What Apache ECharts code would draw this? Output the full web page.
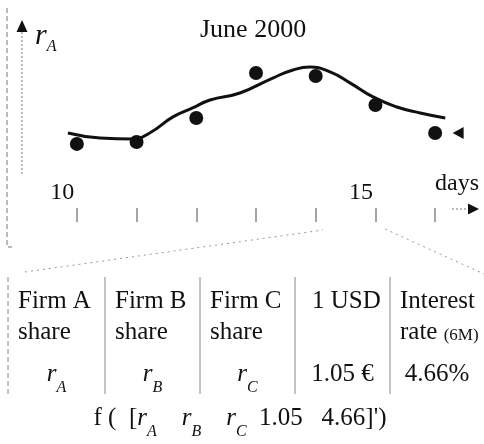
<!DOCTYPE html>
<html>
<head>
<meta charset="utf-8">
<script src="https://cdn.jsdelivr.net/npm/echarts@6/dist/echarts.min.js"></script>
<style>
  html, body { margin: 0; padding: 0; background: #fff; }
  #chart { width: 484px; height: 444px; }
</style>
</head>
<body>
<div id="chart"></div>
<script>
// days on x, r_A share on y
var days = [10, 11, 12, 13, 14, 15, 16];
var shareA = [3.56, 3.67, 5.0, 7.5, 7.33, 5.72, 4.17];
// the smooth curve drawn over the points
var fitDays = [9.85, 10.39, 10.94, 11.22, 11.61, 11.94, 12.23, 12.73, 13.28, 13.62, 13.9, 14.24, 14.58, 14.96, 15.36, 15.75, 16.17];
var fitVals = [4.17, 3.89, 3.83, 4.17, 5.06, 5.56, 6.0, 6.39, 7.22, 7.67, 7.83, 7.56, 6.94, 6.17, 5.61, 5.28, 5.0];
var tickLabels = [10, 15];
// table under the chart
var headLines = [['Firm A', 'share'], ['Firm B', 'share'], ['Firm C', 'share'], ['1 USD'], ['Interest', 'rate (6M)']];
var cellVals = ['r_A', 'r_B', 'r_C', '1.05 €', '4.66%'];
var formulaVals = ['r_A', 'r_B', 'r_C', '1.05', '4.66'];

var SERIF = "'Liberation Serif', 'DejaVu Serif', serif";
var INK = '#111';

// turn "r_A" into rich tokens, everything else into plain {n|..}
function richify (s) {
  var out = '';
  s.split(/(r_\w)/).forEach(function (p) {
    if (!p) return;
    if (/^r_\w$/.test(p)) out += '{r|r}{s|' + p.charAt(2) + '}';
    else if (p.indexOf('(6M)') >= 0) out += '{n|' + p.replace('(6M)', '') + '}{m|(6M)}';
    else out += '{n|' + p + '}';
  });
  return out;
}

var rich = {
  n: { font: '25px ' + SERIF, fill: INK, lineHeight: 31, verticalAlign: 'top' },
  r: { font: 'italic 25px ' + SERIF, fill: INK, lineHeight: 31, verticalAlign: 'top' },
  s: { font: 'italic 16px ' + SERIF, fill: INK, lineHeight: 52 },
  m: { font: '17px ' + SERIF, fill: INK, lineHeight: 31 }
};

function txt (x, y, text, align) {
  return {
    type: 'text', x: x, y: y, silent: true,
    style: {
      text: text, rich: rich, fill: INK, font: '25px ' + SERIF,
      align: align, textAlign: align, verticalAlign: 'top', textVerticalAlign: 'top'
    }
  };
}

var graphics = [];
// scanned frame on the left and the zoom lines to the table
graphics.push({ type: 'polyline', silent: true, shape: { points: [[7, 8], [7, 247], [12, 247]] }, style: { stroke: '#777', lineWidth: 1, lineDash: [5, 3], fill: null } });
graphics.push({ type: 'line', silent: true, shape: { x1: 25, y1: 272, x2: 323, y2: 230 }, style: { stroke: '#999', lineWidth: 1, lineDash: [2, 4] } });
graphics.push({ type: 'line', silent: true, shape: { x1: 385, y1: 229, x2: 484, y2: 274 }, style: { stroke: '#999', lineWidth: 1, lineDash: [2, 4] } });
// y axis arrow
graphics.push({ type: 'line', silent: true, shape: { x1: 22, y1: 32, x2: 22, y2: 175 }, style: { stroke: '#777', lineWidth: 1, lineDash: [2, 2] } });
graphics.push({ type: 'polygon', silent: true, shape: { points: [[16.5, 32], [27.5, 32], [22, 20]] }, style: { fill: INK } });
graphics.push({
  type: 'text', x: 35, y: 21, silent: true,
  style: {
    text: '{r|r}{s|A}', align: 'left', textAlign: 'left', verticalAlign: 'top', textVerticalAlign: 'top',
    rich: {
      r: { font: 'italic 30px ' + SERIF, fill: INK, lineHeight: 30, verticalAlign: 'top' },
      s: { font: 'italic 16px ' + SERIF, fill: INK, lineHeight: 52 }
    }
  }
});
// x axis arrow end and its name
graphics.push({ type: 'line', silent: true, shape: { x1: 452, y1: 209, x2: 467, y2: 209 }, style: { stroke: '#777', lineWidth: 1, lineDash: [2, 2] } });
graphics.push({ type: 'polygon', silent: true, shape: { points: [[468, 203.5], [468, 214.5], [479, 209]] }, style: { fill: INK } });
graphics.push({ type: 'text', x: 457, y: 184, silent: true, style: { text: 'days', font: '24px ' + SERIF, fill: INK, align: 'center', textAlign: 'center', verticalAlign: 'middle', textVerticalAlign: 'middle' } });

// table
var colEdges = [8, 105, 200, 295, 390, 484];
var headInset = [10, 10, 10, 17, 10];
colEdges.slice(0, 5).forEach(function (x, i) {
  graphics.push({ type: 'line', silent: true, shape: { x1: x, y1: 277, x2: x, y2: 394 }, style: { stroke: '#888', lineWidth: 1, lineDash: i === 0 ? [5, 3] : null } });
});
headLines.forEach(function (lines, i) {
  graphics.push(txt(colEdges[i] + headInset[i], 289, lines.map(richify).join('\n'), 'left'));
});
cellVals.forEach(function (v, i) {
  graphics.push(txt((colEdges[i] + colEdges[i + 1]) / 2, 362, richify(v), 'center'));
});
var formula = 'f (  [' + formulaVals.slice(0, 3).join('    ') + '  ' + formulaVals.slice(3).join('   ') + "]')";
graphics.push(txt(240, 406, richify(formula), 'center'));

var chart = echarts.init(document.getElementById('chart'));
chart.setOption({
  animation: false,
  backgroundColor: '#fff',
  title: {
    text: 'June 2000', left: 200, top: 17, padding: 0,
    textStyle: { fontFamily: SERIF, fontSize: 26, fontWeight: 'normal', color: INK }
  },
  grid: { left: 47, right: 19, top: 28, bottom: 236 },
  xAxis: {
    type: 'value', min: 9.5, max: 16.5,
    axisLine: { show: false },
    splitLine: { show: false },
    axisTick: { customValues: days, length: 14, lineStyle: { color: '#888', width: 1.5 } },
    axisLabel: {
      customValues: tickLabels, inside: true, margin: 15, verticalAlign: 'middle',
      padding: [0, 29, 0, 0], fontFamily: SERIF, fontSize: 24, color: INK
    }
  },
  yAxis: { type: 'value', min: 0, max: 10, show: false },
  series: [
    {
      name: 'fit', type: 'line', smooth: 0.5, showSymbol: false, silent: true,
      data: fitDays.map(function (d, i) { return [d, fitVals[i]]; }),
      lineStyle: { color: INK, width: 3 }
    },
    {
      name: 'rA', type: 'scatter', symbolSize: 14,
      data: days.map(function (d, i) { return [d, shareA[i]]; }),
      itemStyle: { color: INK, opacity: 1 },
      markPoint: {
        silent: true,
        data: [{ coord: [days[days.length - 1], shareA[shareA.length - 1]] }],
        symbol: 'triangle', symbolRotate: 90, symbolSize: [12, 11], symbolOffset: [23, 0],
        itemStyle: { color: INK }, label: { show: false }
      }
    }
  ],
  graphic: graphics
});
</script>
</body>
</html>
